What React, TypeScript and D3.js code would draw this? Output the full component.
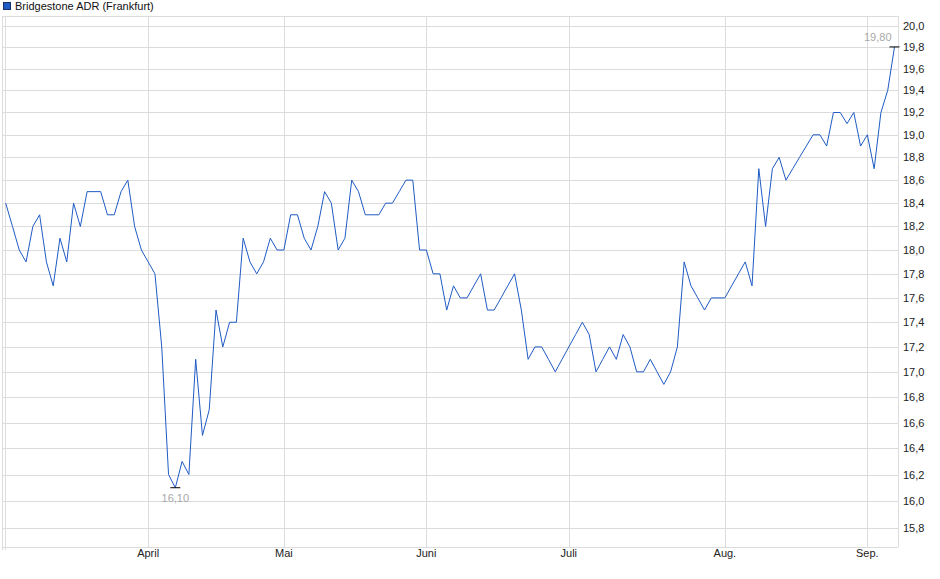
import * as d3 from 'd3'

const title = 'Bridgestone ADR (Frankfurt)'

// closing prices, one per trading day
const prices = [
  18.4, 18.2, 18.0, 17.9, 18.2, 18.3, 17.9, 17.7, 18.1, 17.9,
  18.4, 18.2, 18.5, 18.5, 18.5, 18.3, 18.3, 18.5, 18.6, 18.2,
  18.0, 17.9, 17.8, 17.2, 16.2, 16.1, 16.3, 16.2, 17.1, 16.5,
  16.7, 17.5, 17.2, 17.4, 17.4, 18.1, 17.9, 17.8, 17.9, 18.1,
  18.0, 18.0, 18.3, 18.3, 18.1, 18.0, 18.2, 18.5, 18.4, 18.0,
  18.1, 18.6, 18.5, 18.3, 18.3, 18.3, 18.4, 18.4, 18.5, 18.6,
  18.6, 18.0, 18.0, 17.8, 17.8, 17.5, 17.7, 17.6, 17.6, 17.7,
  17.8, 17.5, 17.5, 17.6, 17.7, 17.8, 17.5, 17.1, 17.2, 17.2,
  17.1, 17.0, 17.1, 17.2, 17.3, 17.4, 17.3, 17.0, 17.1, 17.2,
  17.1, 17.3, 17.2, 17.0, 17.0, 17.1, 17.0, 16.9, 17.0, 17.2,
  17.9, 17.7, 17.6, 17.5, 17.6, 17.6, 17.6, 17.7, 17.8, 17.9,
  17.7, 18.7, 18.2, 18.7, 18.8, 18.6, 18.7, 18.8, 18.9, 19.0,
  19.0, 18.9, 19.2, 19.2, 19.1, 19.2, 18.9, 19.0, 18.7, 19.2,
  19.4, 19.8,
]

const monthLabels = ['April', 'Mai', 'Juni', 'Juli', 'Aug.', 'Sep.']
const monthStarts = [21, 41, 62, 83, 106, 127]

const yTicks = [
  15.8, 16.0, 16.2, 16.4, 16.6, 16.8, 17.0, 17.2, 17.4, 17.6, 17.8,
  18.0, 18.2, 18.4, 18.6, 18.8, 19.0, 19.2, 19.4, 19.6, 19.8, 20.0,
]

const fmt = (v: number, digits: number) => v.toFixed(digits).replace('.', ',')

export default function App() {
  const width = 940
  const height = 579
  const frame = { left: 3, right: 898, top: 16, bottom: 547 }
  const font = '"Liberation Sans", Arial, sans-serif'

  const x = d3.scaleLinear().domain([0, prices.length - 1]).range([5.7, 894.5])
  const y = d3.scaleLog().domain([16, 20]).range([501, 25.5])

  const line = d3
    .line<number>()
    .x((_, i) => x(i))
    .y((v) => y(v))
  const path = line(prices) ?? ''

  const minIndex = d3.minIndex(prices)
  const maxIndex = d3.maxIndex(prices)
  const minValue = prices[minIndex]
  const maxValue = prices[maxIndex]

  return (
    <svg
      width={width}
      height={height}
      viewBox={`0 0 ${width} ${height}`}
      style={{ position: 'absolute', left: 0, top: 0, background: '#fff' }}
      fontFamily={font}
    >
      <rect x={3.5} y={2.5} width={7} height={7} fill="#1f5bc4" stroke="#1a2f66" />
      <text x={15} y={10} fontSize="11" fill="#111">
        {title}
      </text>

      {yTicks.map((tick) => (
        <g key={tick}>
          <line
            x1={frame.left}
            x2={frame.right}
            y1={Math.round(y(tick)) + 0.5}
            y2={Math.round(y(tick)) + 0.5}
            stroke="#dcdcdc"
          />
          <text x={903} y={y(tick) + 4} fontSize="11" fill="#222">
            {fmt(tick, 1)}
          </text>
        </g>
      ))}

      {monthStarts.map((idx, i) => (
        <g key={monthLabels[i]}>
          <line
            x1={Math.round(x(idx)) + 0.5}
            x2={Math.round(x(idx)) + 0.5}
            y1={frame.top}
            y2={frame.bottom}
            stroke="#dcdcdc"
          />
          <text x={x(idx)} y={557} fontSize="11" textAnchor="middle" fill="#222">
            {monthLabels[i]}
          </text>
        </g>
      ))}

      <line x1={frame.left} x2={frame.right} y1={frame.top + 0.5} y2={frame.top + 0.5} stroke="#dcdcdc" />
      <line x1={frame.left} x2={frame.right} y1={frame.bottom + 0.5} y2={frame.bottom + 0.5} stroke="#dcdcdc" />
      <line x1={frame.left - 0.5} x2={frame.left - 0.5} y1={frame.top} y2={frame.bottom + 3} stroke="#dcdcdc" />
      <line x1={frame.left + 2.5} x2={frame.left + 2.5} y1={frame.top} y2={frame.bottom + 3} stroke="#dcdcdc" />
      <line x1={frame.right + 0.5} x2={frame.right + 0.5} y1={frame.top} y2={frame.bottom} stroke="#dcdcdc" />

      <path d={path} fill="none" stroke="#1f5bc4" strokeWidth="1" />

      <line
        x1={x(minIndex) - 5}
        x2={x(minIndex) + 5}
        y1={y(minValue)}
        y2={y(minValue)}
        stroke="#000"
      />
      <text x={x(minIndex)} y={y(minValue) + 14} fontSize="11" textAnchor="middle" fill="#a8a8a8">
        {fmt(minValue, 2)}
      </text>

      <line
        x1={x(maxIndex) - 5}
        x2={x(maxIndex) + 5}
        y1={y(maxValue)}
        y2={y(maxValue)}
        stroke="#000"
      />
      <text x={x(maxIndex) - 3} y={y(maxValue) - 6} fontSize="11" textAnchor="end" fill="#a8a8a8">
        {fmt(maxValue, 2)}
      </text>
    </svg>
  )
}
